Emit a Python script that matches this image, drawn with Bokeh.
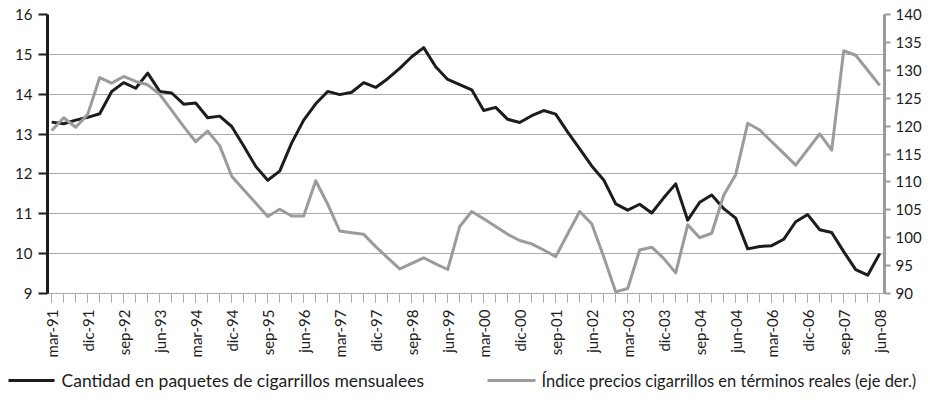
import math
from bokeh.plotting import figure
from bokeh.layouts import column
from bokeh.models import Range1d, LinearAxis, FixedTicker
from bokeh.core.properties import value
from bokeh.embed import file_html
from bokeh.resources import INLINE

# Quarterly series, mar-91 .. jun-08
cantidad = [13.30, 13.26, 13.35, 13.42, 13.51, 14.07, 14.29, 14.15, 14.53, 14.07,
            14.03, 13.75, 13.78, 13.41, 13.45, 13.19, 12.70, 12.19, 11.84, 12.07,
            12.78, 13.35, 13.76, 14.07, 13.99, 14.05, 14.29, 14.17, 14.39, 14.65,
            14.94, 15.17, 14.69, 14.37, 14.24, 14.11, 13.59, 13.67, 13.37, 13.29,
            13.46, 13.59, 13.50, 13.05, 12.63, 12.20, 11.85, 11.25, 11.09, 11.24,
            11.02, 11.40, 11.75, 10.84, 11.29, 11.47, 11.13, 10.89, 10.12, 10.18,
            10.20, 10.36, 10.80, 10.98, 10.60, 10.53, 10.05, 9.60, 9.46, 10.00]

indice = [119.2, 121.5, 119.8, 122.1, 128.7, 127.7, 128.9, 128.0, 127.4, 125.7,
          122.8, 119.9, 117.2, 119.1, 116.5, 111.0, 108.6, 106.2, 103.8, 105.1,
          103.9, 103.9, 110.2, 106.0, 101.2, 100.9, 100.6, 98.4, 96.4, 94.4,
          95.4, 96.4, 95.3, 94.3, 102.0, 104.7, 103.4, 102.0, 100.6, 99.5,
          98.9, 97.8, 96.6, 100.7, 104.7, 102.5, 96.6, 90.3, 90.9, 97.8,
          98.3, 96.3, 93.7, 102.3, 100.0, 100.8, 107.6, 111.3, 120.5, 119.3,
          117.2, 115.1, 113.0, 115.8, 118.6, 115.7, 133.5, 132.7, 130.0, 127.3]

tick_labels = ["mar-91", "dic-91", "sep-92", "jun-93", "mar-94", "dic-94", "sep-95",
               "jun-96", "mar-97", "dic-97", "sep-98", "jun-99", "mar-00", "dic-00",
               "sep-01", "jun-02", "mar-03", "dic-03", "sep-04", "jun-04", "mar-06",
               "dic-06", "sep-07", "jun-08"]

left_ticks = [9, 10, 11, 12, 13, 14, 15, 16]
right_ticks = [90, 95, 100, 105, 110, 115, 120, 125, 130, 135, 140]

serie1 = "Cantidad en paquetes de cigarrillos mensualees"
serie2 = "Índice precios cigarrillos en términos reales (eje der.)"

n = len(cantidad)
x = list(range(n))
label_pos = list(range(0, n, 3))

FONT = "Lato"
BLACK = "#1c1c1c"
GRAY = "#9b9b9b"
GRID = "#ababab"

p = figure(width=927, height=360, output_backend="svg", toolbar_location=None,
           x_range=Range1d(-0.35, 69.4), y_range=Range1d(9, 16),
           min_border_left=47, min_border_right=43, min_border_top=14,
           min_border_bottom=67)
p.frame_align = False
p.extra_y_ranges = {"der": Range1d(90, 140)}
p.outline_line_color = None
p.xgrid.visible = False
p.ygrid.ticker = FixedTicker(ticks=left_ticks)
p.ygrid.grid_line_color = GRID
p.ygrid.grid_line_width = 1

p.line(x, cantidad, line_color=BLACK, line_width=3, line_join="round")
p.line(x, indice, y_range_name="der", line_color=GRAY, line_width=3,
       line_join="round")

# left axis
ya = p.yaxis[0]
ya.ticker = FixedTicker(ticks=left_ticks)
ya.axis_line_color = BLACK
ya.axis_line_width = 3
ya.major_tick_line_color = BLACK
ya.major_tick_line_width = 2
ya.major_tick_out = 9
ya.major_tick_in = 0
ya.minor_tick_line_color = None
ya.major_label_text_font = FONT
ya.major_label_text_font_size = "15px"
ya.major_label_text_color = BLACK
ya.major_label_standoff = 6

# right axis
ra = LinearAxis(y_range_name="der", ticker=FixedTicker(ticks=right_ticks))
ra.axis_line_color = GRAY
ra.axis_line_width = 3
ra.major_tick_line_color = GRAY
ra.major_tick_line_width = 2
ra.major_tick_out = 6
ra.major_tick_in = 0
ra.minor_tick_line_color = None
ra.major_label_text_font = FONT
ra.major_label_text_font_size = "15px"
ra.major_label_text_color = BLACK
ra.major_label_standoff = 5
p.add_layout(ra, "right")

# bottom axis
xa = p.xaxis[0]
xa.ticker = FixedTicker(ticks=label_pos, minor_ticks=x)
xa.major_label_overrides = {pos: lab for pos, lab in zip(label_pos, tick_labels)}
xa.major_label_orientation = math.pi / 2
xa.axis_line_color = GRID
xa.axis_line_width = 1
xa.major_tick_line_color = GRID
xa.minor_tick_line_color = GRID
xa.major_tick_out = 9
xa.major_tick_in = 0
xa.minor_tick_out = 9
xa.minor_tick_in = 0
xa.major_label_text_font = FONT
xa.major_label_text_font_size = "15px"
xa.major_label_text_color = BLACK
xa.major_label_standoff = 7

# legend strip below the chart (pixel coordinates)
q = figure(width=927, height=40, output_backend="svg", toolbar_location=None,
           x_axis_type=None, y_axis_type=None, x_range=Range1d(0, 927),
           y_range=Range1d(0, 40), min_border_left=0, min_border_right=0,
           min_border_top=0, min_border_bottom=0)
q.frame_align = False
q.outline_line_color = None
q.grid.visible = False
q.segment(x0=[8], y0=[20], x1=[54], y1=[20], line_color=BLACK, line_width=3)
q.segment(x0=[487], y0=[20], x1=[535], y1=[20], line_color=GRAY, line_width=3)
q.text(x=[61], y=[20], text=[serie1], text_font=value(FONT),
       text_font_size=value("17.5px"), text_color=BLACK,
       text_baseline="middle", text_align="left")
q.text(x=[541], y=[20], text=[serie2], text_font=value(FONT),
       text_font_size=value("16.5px"), text_color=BLACK,
       text_baseline="middle", text_align="left")

open("out.html", "w").write(file_html(column(p, q), INLINE))
